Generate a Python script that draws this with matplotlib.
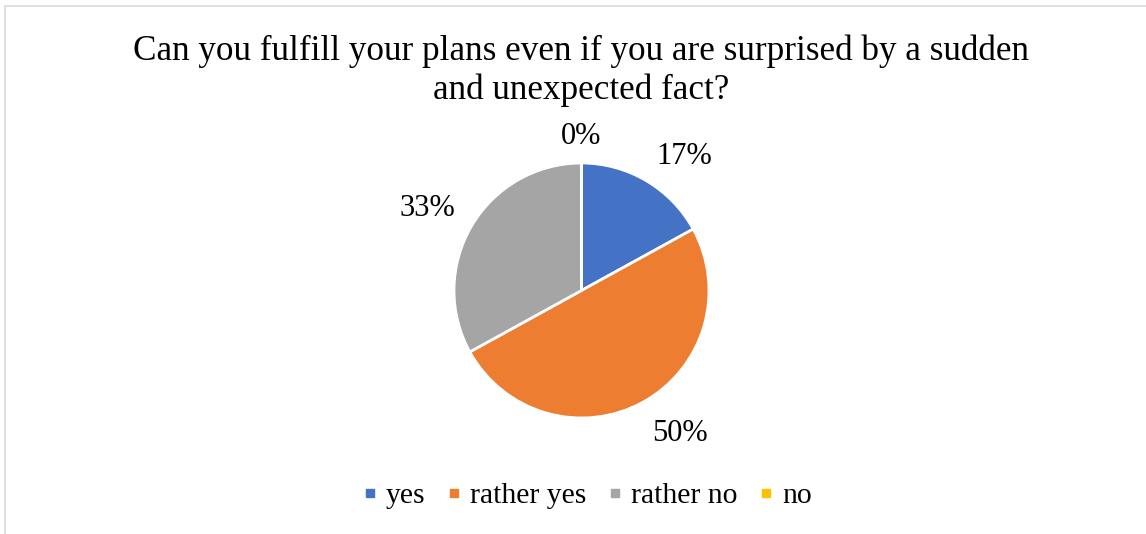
import matplotlib
matplotlib.use("Agg")
import matplotlib.pyplot as plt
import matplotlib.patches as patches
from matplotlib.lines import Line2D
import numpy as np

plt.rcParams['font.family'] = ['Liberation Serif', 'DejaVu Serif']

# Survey answers
categories = ['yes', 'rather yes', 'rather no', 'no']
shares = [17, 50, 33, 0]
colors = ['#4472C4', '#ED7D31', '#A5A5A5', '#FFC000']
title = 'Can you fulfill your plans even if you are surprised by a sudden\nand unexpected fact?'

W, H = 1146, 534
fig = plt.figure(figsize=(W / 100, H / 100), dpi=100)

# axes in pixel units so the pie can sit where we want it
ax = fig.add_axes([0, 0, 1, 1])
wedges, texts = ax.pie(
    shares, colors=colors, startangle=90, counterclock=False,
    radius=127.5, center=(581.5, H - 290.5),
    labels=[f'{v}%' for v in shares], labeldistance=1.15,
    wedgeprops=dict(edgecolor='white', linewidth=2),
    textprops=dict(fontsize=22),
)
ax.set_xlim(0, W)
ax.set_ylim(0, H)
ax.set_aspect('equal')
ax.axis('off')

# anchor each label's near corner just outside its wedge
for w, t in zip(wedges, texts):
    ang = np.deg2rad((w.theta1 + w.theta2) / 2)
    c, s = np.cos(ang), np.sin(ang)
    t.set_ha('center' if abs(c) < 1e-6 else ('left' if c > 0 else 'right'))
    t.set_va('baseline' if s > 0 else 'top')

# chart border (light grey)
fig.add_artist(patches.Rectangle((5 / W, -0.1), 1.2, 1 - 6 / H + 0.1,
                                 transform=fig.transFigure, fill=False,
                                 edgecolor='#d9d9d9', linewidth=1.2))

fig.text(0.507, 1 - 71 / H, title, ha='center', va='center',
         fontsize=25.3, linespacing=1.22)

handles = [Line2D([], [], marker='s', linestyle='none', markersize=5.5,
                  markerfacecolor=c, markeredgecolor=c) for c in colors]
fig.legend(handles, categories, loc='center', bbox_to_anchor=(587 / W, 1 - 496 / H),
           ncol=4, frameon=False, fontsize=21.3, handlelength=0.5,
           handletextpad=0.3, columnspacing=0.7)

fig.savefig('out.png', dpi=100)
